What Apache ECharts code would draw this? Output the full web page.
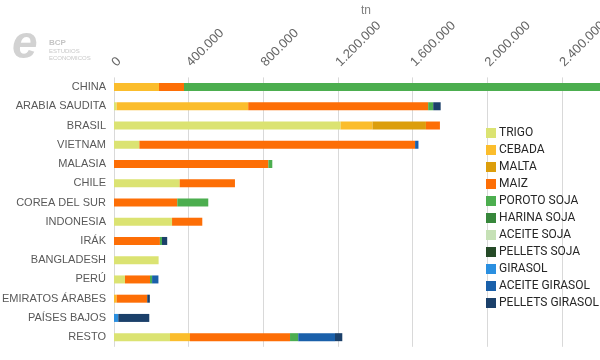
<!DOCTYPE html>
<html><head><meta charset="utf-8">
<script src="https://cdn.jsdelivr.net/npm/echarts@6/dist/echarts.min.js"></script>
<style>html,body{margin:0;padding:0;background:#fff}#c{width:600px;height:360px}</style>
</head><body><div id="c"></div>
<script>
const categories = ['CHINA','ARABIA SAUDITA','BRASIL','VIETNAM','MALASIA','CHILE','COREA DEL SUR','INDONESIA','IRÁK','BANGLADESH','PERÚ','EMIRATOS ÁRABES','PAÍSES BAJOS','RESTO'];
const trigo          = [0, 14000, 1214000, 136000, 0, 352000, 0, 311000, 0, 239000, 59000, 0, 0, 300000];
const cebada         = [241000, 705000, 171000, 0, 0, 0, 0, 0, 0, 0, 0, 14000, 0, 107000];
const malta          = [0, 0, 286000, 0, 0, 0, 0, 0, 0, 0, 0, 0, 0, 0];
const maiz           = [134000, 964000, 75000, 1477000, 827000, 296000, 339000, 162000, 246000, 0, 134000, 164000, 0, 536000];
const porotoSoja     = [2350000, 27000, 0, 0, 21000, 0, 166000, 0, 11000, 0, 11000, 0, 0, 44000];
const harinaSoja     = [0, 0, 0, 0, 0, 0, 0, 0, 0, 0, 0, 0, 0, 0];
const aceiteSoja     = [0, 0, 0, 0, 0, 0, 0, 0, 0, 0, 0, 0, 0, 0];
const pelletsSoja    = [0, 0, 0, 0, 0, 0, 0, 0, 0, 0, 0, 0, 0, 0];
const girasol        = [0, 0, 0, 0, 0, 0, 0, 0, 0, 0, 0, 0, 23000, 0];
const aceiteGirasol  = [0, 0, 0, 18000, 0, 0, 0, 0, 0, 0, 34000, 0, 0, 197000];
const pelletsGirasol = [0, 40000, 0, 0, 0, 0, 0, 0, 28000, 0, 0, 14000, 166000, 39000];
const tickValues = [0, 400000, 800000, 1200000, 1600000, 2000000, 2400000, 2800000];

const seriesDefs = [
  ['TRIGO', trigo, '#dbe372'],
  ['CEBADA', cebada, '#fbbd2c'],
  ['MALTA', malta, '#dc9e0c'],
  ['MAIZ', maiz, '#fd6e06'],
  ['POROTO SOJA', porotoSoja, '#4cae4f'],
  ['HARINA SOJA', harinaSoja, '#37873b'],
  ['ACEITE SOJA', aceiteSoja, '#c6e1b6'],
  ['PELLETS SOJA', pelletsSoja, '#254a27'],
  ['GIRASOL', girasol, '#2a8fe0'],
  ['ACEITE GIRASOL', aceiteGirasol, '#1a60aa'],
  ['PELLETS GIRASOL', pelletsGirasol, '#1b406a']
];

const fmt = v => String(v).replace(/\B(?=(\d{3})+(?!\d))/g, '.');

const chart = echarts.init(document.getElementById('c'), null, {renderer: 'canvas'});
chart.setOption({
  animation: false,
  backgroundColor: '#fff',
  grid: {left: 114, top: 77.4, width: 522.67, height: 269.4, containLabel: false, outerBoundsMode: 'none'},
  title: {text: 'tn', left: 356, top: 0, textStyle: {fontFamily: 'Liberation Sans', fontSize: 12, fontWeight: 'normal', color: '#7f7f7f'}},
  legend: {
    orient: 'vertical', left: 481, top: 122,
    itemWidth: 10, itemHeight: 10, itemGap: 5,
    icon: 'rect',
    textStyle: {fontFamily: 'Roboto', fontSize: 12, color: '#262626', padding: [0,0,0,-2]},
    data: seriesDefs.map(d => d[0])
  },
  xAxis: {
    type: 'value', position: 'top', min: 0, max: 2800000, interval: 400000,
    axisLine: {show: false}, axisTick: {show: false},
    splitLine: {lineStyle: {color: '#d9d9d9', width: 1}},
    axisLabel: {rotate: -45, margin: 13, color: '#666666', fontFamily: 'Liberation Sans', fontSize: 13,
      formatter: v => tickValues.indexOf(v) >= 0 ? fmt(v) : ''}
  },
  yAxis: {
    type: 'category', inverse: true, data: categories,
    axisLine: {show: false}, axisTick: {show: false},
    axisLabel: {color: '#595959', fontFamily: 'Liberation Sans', fontSize: 11, margin: 8}
  },
  graphic: [
    {type: 'text', left: 12, top: 22, style: {text: 'e', fill: '#d2d2d2', font: 'italic bold 46px "Liberation Sans"'}},
    {type: 'text', left: 49, top: 39, style: {text: 'BCP', fill: '#c4c4c4', font: 'bold 8px "Liberation Sans"'}},
    {type: 'text', left: 49, top: 48, style: {text: 'ESTUDIOS', fill: '#c8c8c8', font: '6px "Liberation Sans"'}},
    {type: 'text', left: 49, top: 55, style: {text: 'ECONOMICOS', fill: '#c8c8c8', font: '6px "Liberation Sans"'}}
  ],
  series: seriesDefs.map(d => ({
    name: d[0], type: 'bar', stack: 'total', data: d[1], barWidth: 8,
    itemStyle: {color: d[2]}
  }))
});
</script>
</body></html>
